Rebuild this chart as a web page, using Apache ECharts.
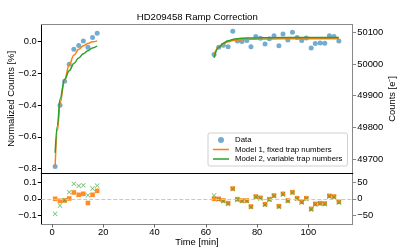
<!DOCTYPE html>
<html>
<head>
<meta charset="utf-8">
<script src="https://cdn.jsdelivr.net/npm/echarts@6/dist/echarts.min.js"></script>
<style>html,body{margin:0;padding:0;background:#fff}#c{width:415px;height:249px}</style>
</head>
<body>
<div id="c"></div>
<script>
// ---- data ----
const timeOrbit1 = [1.2, 3.1, 4.9, 6.7, 8.5, 10.4, 12.2, 14.0, 15.8, 17.6];
const dataOrbit1 = [-0.787, -0.402, -0.251, -0.145, -0.050, -0.027, 0.002, -0.038, 0.023, 0.050];
const timeOrbit2 = [63.2, 65.0, 66.8, 68.7, 70.5, 72.3, 74.1, 76.0, 77.6, 79.5, 81.3, 83.1, 84.8, 86.6,
  88.5, 90.1, 92.0, 93.8, 95.6, 97.4, 99.2, 101.1, 102.7, 104.6, 106.4, 108.2, 110.0, 111.9];
const dataOrbit2 = [-0.084, -0.038, -0.026, -0.034, 0.063, 0.002, -0.002, 0.004, -0.034, 0.029, 0.019, -0.017,
  0.016, 0.035, -0.028, 0.046, 0.008, 0.057, 0.023, 0.004, 0.021, -0.042, -0.015, -0.011, -0.013, 0.035, 0.029, 0.002];

// model curves
const model1TimeOrbit1 = [1.2, 2.1, 3.1, 4.9, 6.7, 8.5, 10.4, 12.2, 14.0, 15.8, 17.6];
const model1Orbit1 = [-0.787, -0.56, -0.39, -0.24, -0.147, -0.088, -0.051, -0.028, -0.014, -0.004, 0.002];
const model2Orbit1 = [-0.70, -0.53, -0.362, -0.24, -0.185, -0.14, -0.105, -0.078, -0.06, -0.042, -0.03];
const modelTimeOrbit2 = [63.2, 65.0, 66.8, 68.7, 70.5, 72.3, 76.0, 81.3, 90.0, 100.0, 111.9];
const model1Orbit2 = [-0.084, -0.038, -0.016, -0.004, 0.004, 0.008, 0.012, 0.014, 0.015, 0.015, 0.015];
const model2Orbit2 = [-0.104, -0.04, -0.012, 0.003, 0.011, 0.016, 0.020, 0.022, 0.023, 0.024, 0.024];

// residuals
const resid1Orbit1 = [0.0, -0.012, -0.01, 0.002, 0.038, 0.024, 0.03, -0.025, 0.024, 0.048];
const resid2Orbit1 = [-0.09, -0.04, -0.008, 0.04, 0.09, 0.078, 0.081, 0.021, 0.062, 0.079];
const resid1Orbit2 = [0.0, 0.0, -0.01, -0.026, 0.062, -0.002, -0.01, -0.01, -0.046, 0.014, 0.006, -0.032, -0.002, 0.02,
  -0.044, 0.03, -0.01, 0.04, 0.004, -0.018, 0.004, -0.06, -0.03, -0.026, -0.028, 0.018, 0.014, -0.018];
const resid2Orbit2 = [0.02, -0.004, -0.014, -0.03, 0.058, -0.006, -0.014, -0.014, -0.05, 0.01, 0.002, -0.036, -0.006, 0.016,
  -0.048, 0.026, -0.014, 0.036, 0.0, -0.022, 0.0, -0.064, -0.034, -0.03, -0.032, 0.014, 0.01, -0.022];

// tick labels
const xTicks = [0, 20, 40, 60, 80, 100];
const yTicksTop = [-0.8, -0.6, -0.4, -0.2, 0.0];
const yTicksTopRight = [49700, 49800, 49900, 50000, 50100];
const yTicksBottom = [-0.1, 0.0, 0.1];
const yTicksBottomRight = [-50, 0, 50];

const names = ['Data', 'Model 1, fixed trap numbers', 'Model 2, variable trap numbers'];

// ---- helpers ----
const zip = (a, b) => a.map((v, i) => [v, b[i]]);
const minus = s => String(s).replace('-', '\u2212');
const FONT = 'Liberation Sans';
const FS = 9.4;
const X_MIN = -4.2, X_MAX = 117.3;
const xMark = 'path://M0,1L1,0L5,4L9,0L10,1L6,5L10,9L9,10L5,6L1,10L0,9L4,5Z';
const lineIcon = 'path://M0,0L16,0L16,1.5L0,1.5Z';

const chart = echarts.init(document.getElementById('c'), null, {renderer: 'canvas'});

const lblStyle = {color: '#000', fontSize: FS, fontFamily: FONT};

function xAxisDef(grid, pos, lineColor, opts) {
  return Object.assign({
    type: 'value', gridIndex: grid, position: pos, min: X_MIN, max: X_MAX,
    axisLine: {show: true, onZero: false, lineStyle: {color: lineColor, width: 1}},
    axisTick: {show: false}, axisLabel: {show: false}, splitLine: {show: false}
  }, opts || {});
}
function yAxisDef(grid, pos, min, max, ticks, color, fmt, opts) {
  return Object.assign({
    type: 'value', gridIndex: grid, position: pos, min: min, max: max,
    axisLine: {show: true, onZero: false, lineStyle: {color: color, width: 1}},
    axisTick: {show: true, length: 3.5, customValues: ticks, lineStyle: {color: color, width: 1}},
    axisLabel: Object.assign({show: true, margin: 4.5, customValues: ticks, formatter: fmt}, lblStyle),
    splitLine: {show: false}
  }, opts || {});
}

const option = {
  animation: false,
  backgroundColor: '#fff',
  title: {
    text: 'HD209458 Ramp Correction', left: 136.7, top: 12.3, padding: 0,
    textStyle: {fontSize: 9.6, fontWeight: 'normal', color: '#000', fontFamily: FONT}
  },
  legend: {
    data: [{name: names[0], icon: 'circle'}, {name: names[1], icon: lineIcon}, {name: names[2], icon: lineIcon}],
    orient: 'vertical', left: 208, top: 133,
    padding: [3, 5, 3, 5], itemGap: 1.5, itemWidth: 16, itemHeight: 6,
    backgroundColor: 'rgba(255,255,255,0.8)', borderColor: '#d0d0d0', borderWidth: 1, borderRadius: 2,
    textStyle: {fontSize: 7.8, color: '#000', fontFamily: FONT, padding: [0, 0, 0, 1]},
    selectedMode: false
  },
  grid: [
    {left: 41.3, top: 24.5, width: 311.4, height: 148.8, outerBoundsMode: 'none'},
    {left: 41.3, top: 173.3, width: 311.4, height: 50.7, outerBoundsMode: 'none'}
  ],
  xAxis: [
    xAxisDef(0, 'bottom', '#000'),
    xAxisDef(0, 'top', '#888'),
    xAxisDef(1, 'bottom', '#888', {
      axisTick: {show: true, length: 3.5, customValues: xTicks, lineStyle: {color: '#666'}},
      axisLabel: Object.assign({show: true, margin: 4, customValues: xTicks, formatter: v => String(v)}, lblStyle),
      name: 'Time [min]', nameLocation: 'middle', nameGap: 14, nameMoveOverlap: false,
      nameTextStyle: {fontSize: FS, color: '#000', fontFamily: FONT, verticalAlign: 'top'}
    }),
    xAxisDef(1, 'top', '#000')
  ],
  yAxis: [
    yAxisDef(0, 'left', -0.829, 0.105, yTicksTop, '#000', v => minus(v.toFixed(1)), {
      name: 'Normalized Counts [%]', nameLocation: 'middle', nameGap: 25, nameRotate: 90, nameMoveOverlap: false,
      nameTextStyle: {fontSize: FS, color: '#000', fontFamily: FONT}
    }),
    yAxisDef(0, 'right', 49654.9, 50124.6, yTicksTopRight, '#888', v => String(v), {
      name: 'Counts [e\u207B]', nameLocation: 'middle', nameGap: 35, nameRotate: 90, nameMoveOverlap: false,
      nameTextStyle: {fontSize: FS, color: '#000', fontFamily: FONT}
    }),
    yAxisDef(1, 'left', -0.151, 0.153, yTicksBottom, '#000', v => minus(v.toFixed(1))),
    yAxisDef(1, 'right', -75.5, 76.5, yTicksBottomRight, '#888', v => minus(v))
  ],
  series: [
    {
      name: names[0], type: 'scatter', xAxisIndex: 0, yAxisIndex: 0,
      symbol: 'circle', symbolSize: 5,
      itemStyle: {color: '#1f77b4', opacity: 0.62},
      data: zip(timeOrbit1, dataOrbit1).concat(zip(timeOrbit2, dataOrbit2)), z: 2
    },
    {
      name: names[1], type: 'line', xAxisIndex: 0, yAxisIndex: 0, symbol: 'none',
      smooth: 0.4, smoothMonotone: 'x', lineStyle: {color: '#ff7f0e', width: 1.5}, itemStyle: {color: '#ff7f0e'},
      data: zip(model1TimeOrbit1, model1Orbit1), z: 3
    },
    {
      name: names[1], type: 'line', xAxisIndex: 0, yAxisIndex: 0, symbol: 'none',
      smooth: 0.4, smoothMonotone: 'x', lineStyle: {color: '#ff7f0e', width: 1.5}, itemStyle: {color: '#ff7f0e'},
      data: zip(modelTimeOrbit2, model1Orbit2), z: 3
    },
    {
      name: names[2], type: 'line', xAxisIndex: 0, yAxisIndex: 0, symbol: 'none',
      smooth: 0.4, smoothMonotone: 'x', lineStyle: {color: '#2ca02c', width: 1.5}, itemStyle: {color: '#2ca02c'},
      data: zip(model1TimeOrbit1, model2Orbit1), z: 4
    },
    {
      name: names[2], type: 'line', xAxisIndex: 0, yAxisIndex: 0, symbol: 'none',
      smooth: 0.4, smoothMonotone: 'x', lineStyle: {color: '#2ca02c', width: 1.5}, itemStyle: {color: '#2ca02c'},
      data: zip(modelTimeOrbit2, model2Orbit2), z: 4
    },
    {
      name: 'Residual 1', type: 'scatter', xAxisIndex: 2, yAxisIndex: 2,
      symbol: 'rect', symbolSize: 4.6, itemStyle: {color: '#ff7f0e', opacity: 0.9},
      data: zip(timeOrbit1, resid1Orbit1).concat(zip(timeOrbit2, resid1Orbit2)), z: 3,
      markLine: {
        silent: true, symbol: 'none', label: {show: false},
        lineStyle: {color: '#c8c8c8', type: [4, 2], width: 1},
        data: [{yAxis: 0}]
      }
    },
    {
      name: 'Residual 2', type: 'scatter', xAxisIndex: 2, yAxisIndex: 2,
      symbol: xMark, symbolSize: 4.8, itemStyle: {color: '#2ca02c', opacity: 0.75},
      data: zip(timeOrbit1, resid2Orbit1).concat(zip(timeOrbit2, resid2Orbit2)), z: 4
    }
  ]
};
chart.setOption(option);
</script>
</body>
</html>
